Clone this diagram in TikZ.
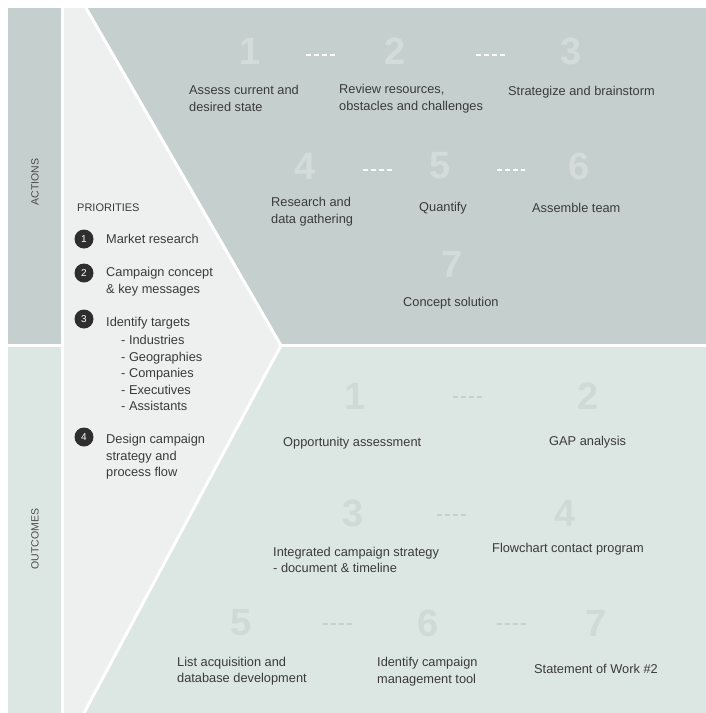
\documentclass[tikz,border=0pt]{standalone}
\usepackage{fontspec}
\setmainfont{Liberation Sans}
\definecolor{topbg}{HTML}{C5D0CE}
\definecolor{botbg}{HTML}{DCE7E3}
\definecolor{chev}{HTML}{EEF0EF}
\definecolor{numtop}{HTML}{D4DCDA}
\definecolor{numbot}{HTML}{CFD9D6}
\definecolor{dashbot}{HTML}{C6D0CD}
\definecolor{txt}{HTML}{3A3A3A}
\definecolor{sidetxt}{HTML}{4A4A4A}
\definecolor{dot}{HTML}{2E2E2E}
\begin{document}
\begin{tikzpicture}[x=1pt,y=-1pt,
  lbl/.style={font=\fontsize{12.8}{16.5}\selectfont, text=txt, align=left, inner sep=0pt, anchor=west},
  numt/.style={font=\fontsize{38}{38}\selectfont\bfseries, text=numtop, inner sep=0pt},
  numb/.style={font=\fontsize{38}{38}\selectfont\bfseries, text=numbot, inner sep=0pt},
  dasht/.style={draw=white, line width=2pt, dash pattern=on 5pt off 3pt},
  dashb/.style={draw=dashbot, line width=1.6pt, dash pattern=on 5pt off 3pt},
  prio/.style={circle, fill=dot, text=white, minimum size=19pt, inner sep=0pt, font=\fontsize{10}{10}\selectfont},
  side/.style={font=\fontsize{10.5}{10.5}\selectfont, text=sidetxt, rotate=90, inner sep=0pt}]
\useasboundingbox (0,0) rectangle (706,713);
\fill[white] (0,0) rectangle (706,713);

% side column
\fill[topbg] (8,8) rectangle (61,344);
\fill[botbg] (8,347) rectangle (61,713);
% main panels
\fill[topbg] (64,8) rectangle (706,344);
\fill[botbg] (64,347) rectangle (706,713);
% chevron of priorities
\fill[chev] (64,8) -- (86,8) -- (281,345.5) -- (84,713) -- (64,713) -- cycle;
\draw[white, line width=3pt] (86,8) -- (281,345.5) -- (84,713);

% side labels
\node[side] (actions) at (35,182) {ACTIONS};
\node[side] (outcomes) at (35,539) {OUTCOMES};

% priorities
\node[lbl, font=\fontsize{11}{13}\selectfont] (prh) at (77,208) {PRIORITIES};
\node[prio] (p1) at (84,239) {1};
\node[lbl] (p1t) at (106,239) {Market research};
\node[prio] (p2) at (84,273) {2};
\node[lbl] (p2t) at (106,281.5) {Campaign concept\\\& key messages};
\node[prio] (p3) at (84,319) {3};
\node[lbl] (p3t) at (106,323) {Identify targets};
\node[lbl] (p3s) at (121,373) {- Industries\\- Geographies\\- Companies\\- Executives\\- Assistants};
\node[prio] (p4) at (84,437) {4};
\node[lbl] (p4t) at (106,457) {Design campaign\\strategy and\\process flow};

% actions
\node[numt] (t1) at (250,51) {1};
\node[numt] (t2) at (395,51) {2};
\node[numt] (t3) at (571,51) {3};
\node[numt] (t4) at (305,166) {4};
\node[numt] (t5) at (440,166) {5};
\node[numt] (t6) at (579,166) {6};
\node[numt] (t7) at (452,264) {7};
\draw[dasht, shorten <=56pt, shorten >=59pt] ([yshift=-4pt]t1.center) -- ([yshift=-4pt]t2.center);
\draw[dasht, shorten <=81pt, shorten >=65pt] ([yshift=-4pt]t2.center) -- ([yshift=-4pt]t3.center);
\draw[dasht, shorten <=58pt, shorten >=48pt] ([yshift=-4pt]t4.center) -- ([yshift=-4pt]t5.center);
\draw[dasht, shorten <=57pt, shorten >=54pt] ([yshift=-4pt]t5.center) -- ([yshift=-4pt]t6.center);
\node[lbl] (a1) at (189,98.5) {Assess current and\\desired state};
\node[lbl] (a2) at (339,98.5) {Review resources,\\obstacles and challenges};
\node[lbl] (a3) at (508,92) {Strategize and brainstorm};
\node[lbl] (a4) at (271,211.5) {Research and\\data gathering};
\node[lbl] (a5) at (419,208) {Quantify};
\node[lbl] (a6) at (532,208) {Assemble team};
\node[lbl] (a7) at (403,303) {Concept solution};

% outcomes
\node[numb] (b1) at (355,396) {1};
\node[numb] (b2) at (588,396) {2};
\node[numb] (b3) at (353,513) {3};
\node[numb] (b4) at (565,513) {4};
\node[numb] (b5) at (241,623) {5};
\node[numb] (b6) at (428,623) {6};
\node[numb] (b7) at (596,623) {7};
\draw[dashb, shorten <=98pt, shorten >=106pt] ([yshift=-1pt]b1.center) -- ([yshift=-1pt]b2.center);
\draw[dashb, shorten <=84pt, shorten >=99pt] ([yshift=-2pt]b3.center) -- ([yshift=-2pt]b4.center);
\draw[dashb, shorten <=82pt, shorten >=76pt] ([yshift=-1pt]b5.center) -- ([yshift=-1pt]b6.center);
\draw[dashb, shorten <=69pt, shorten >=70pt] ([yshift=-1pt]b6.center) -- ([yshift=-1pt]b7.center);
\node[lbl] (o1) at (283,443) {Opportunity assessment};
\node[lbl] (o2) at (549,442) {GAP analysis};
\node[lbl] (o3) at (273,560) {Integrated campaign strategy\\- document \& timeline};
\node[lbl] (o4) at (492,549) {Flowchart contact program};
\node[lbl] (o5) at (177,671) {List acquisition and\\database development};
\node[lbl] (o6) at (377,671.5) {Identify campaign\\management tool};
\node[lbl] (o7) at (534,669) {Statement of Work \#2};
\end{tikzpicture}
\end{document}
